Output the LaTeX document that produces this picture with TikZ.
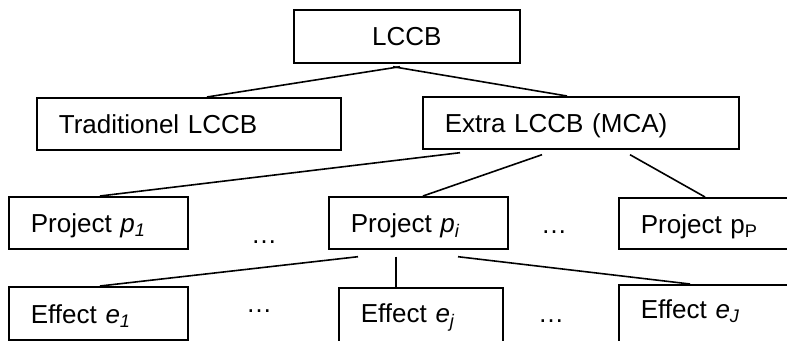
\documentclass[tikz,border=0pt]{standalone}
\usepackage{fontspec}
\setmainfont{Liberation Sans}
\usetikzlibrary{calc}
\begin{document}
\begin{tikzpicture}[x=1pt,y=-1pt,
  box/.style={draw, line width=1.7pt, anchor=north west, inner ysep=0pt, inner xsep=22pt,
    align=left, font=\fontsize{26}{31}\selectfont},
  dots/.style={anchor=base, inner sep=0pt, font=\fontsize{26}{31}\selectfont},
  link/.style={line width=1.6pt}]
\useasboundingbox (0,0) rectangle (787,340);
\clip (0,0) rectangle (787,340);
% level 0
\node[box, align=center, text width=182pt, text height=36pt, text depth=17pt] (top) at (293,9) {LCCB};
% level 1
\node[box, text width=260pt, text height=36pt, text depth=16pt] (trad) at (36,97) {Traditionel LCCB};
\node[box, text width=272pt, text height=36pt, text depth=16pt] (extra) at (422,96) {Extra LCCB (MCA)};
% level 2
\node[box, text width=135pt, text height=36pt, text depth=16pt] (p1) at (8,196) {Project \textit{p\textsubscript{1}}};
\node[box, text width=135pt, text height=36pt, text depth=16pt] (pi) at (328,196) {Project \textit{p\textsubscript{i}}};
\node[box, text width=138pt, text height=36pt, text depth=15pt] (pP) at (618,197) {Project p\textsubscript{P}};
\node[dots] (d1) at (264,243) {…};
\node[dots] (d2) at (554,233) {…};
% level 3
\node[box, text width=135pt, text height=37pt, text depth=16pt] (e1) at (8,286) {Effect \textit{e\textsubscript{1}}};
\node[box, text width=120pt, text height=35pt, text depth=28pt] (ej) at (338,287) {Effect \textit{e\textsubscript{j}}};
\node[box, text width=138pt, text height=34pt, text depth=32pt] (eJ) at (618,284) {Effect \textit{e\textsubscript{J}}};
\node[dots] (d3) at (259,312) {…};
\node[dots] (d4) at (551,322) {…};
% connectors
\draw[link] ($(top.south west)+(107,3)$) -- ($(trad.north west)+(171,0)$);
\draw[link] ($(top.south west)+(100,3)$) -- ($(extra.north west)+(145,0)$);
\draw[link] ($(extra.south west)+(38,3)$) -- ($(p1.north west)+(92,0)$);
\draw[link] ($(extra.south west)+(120,5)$) -- ($(pi.north west)+(95,0)$);
\draw[link] ($(extra.south west)+(208,5)$) -- ($(pP.north west)+(87,0)$);
\draw[link] ($(pi.south west)+(30,7)$) -- ($(e1.north west)+(92,0)$);
\draw[link] ($(pi.south west)+(68,7)$) -- ($(ej.north west)+(58,0)$);
\draw[link] ($(pi.south west)+(130,7)$) -- ($(eJ.north west)+(72,0)$);
\end{tikzpicture}
\end{document}
